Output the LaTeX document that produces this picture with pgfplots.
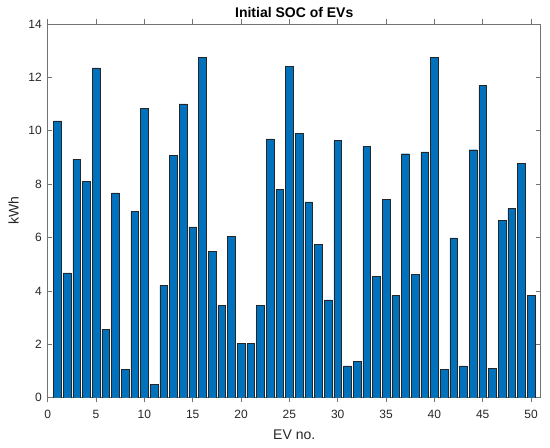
\documentclass[border=0pt]{standalone}
\usepackage{fontspec}
\setmainfont{Liberation Sans}
\usepackage{pgfplots}
\pgfplotsset{compat=1.18}
\definecolor{mbar}{rgb}{0,0.447,0.741}
\definecolor{maxis}{rgb}{0.15,0.15,0.15}
\definecolor{mline}{rgb}{0.45,0.45,0.45}
\begin{document}
\begin{tikzpicture}
\begin{axis}[
  at={(0,0)}, anchor=south west,
  scale only axis,
  width=369.75pt, height=280.3pt,
  xmin=0, xmax=51, ymin=0, ymax=14,
  xtick={0,5,...,50}, ytick={0,2,...,14},
  tick align=inside,
  major tick length=3.5pt,
  axis line style={mline, line width=0.5pt},
  tick style={mline, line width=0.5pt},
  every tick label/.append style={font=\fontsize{9}{11}\selectfont, text=maxis},
  xticklabel style={yshift=-2pt},
  yticklabel style={xshift=-1pt},
  /pgf/number format/assume math mode=true,
  title={\textbf{Initial SOC of EVs}},
  title style={font=\fontsize{10.5}{12}\selectfont, yshift=-4.5pt},
  xlabel={EV no.}, ylabel={kWh},
  label style={font=\fontsize{10.5}{12}\selectfont, text=maxis},
  xlabel style={yshift=-1.5pt},
  ylabel style={yshift=0.5pt},
  ybar, bar width=0.8,
]
\addplot[fill=mbar, draw=black!85, line width=0.35pt] coordinates {
(1,10.37) (2,4.68) (3,8.94) (4,8.11) (5,12.36) (6,2.57) (7,7.67) (8,1.07) (9,6.97) (10,10.84)
(11,0.51) (12,4.22) (13,9.09) (14,11.01) (15,6.40) (16,12.75) (17,5.48) (18,3.45) (19,6.05) (20,2.05)
(21,2.04) (22,3.45) (23,9.70) (24,7.80) (25,12.40) (26,9.90) (27,7.34) (28,5.75) (29,3.67) (30,9.64)
(31,1.19) (32,1.37) (33,9.41) (34,4.54) (35,7.44) (36,3.83) (37,9.14) (38,4.62) (39,9.21) (40,12.75)
(41,1.07) (42,5.99) (43,1.19) (44,9.29) (45,11.69) (46,1.09) (47,6.65) (48,7.08) (49,8.78) (50,3.83)
};
\end{axis}
\pgfresetboundingbox
\path (-35.8pt,-37pt) rectangle (376.7pt,298.3pt);
\end{tikzpicture}
\end{document}
